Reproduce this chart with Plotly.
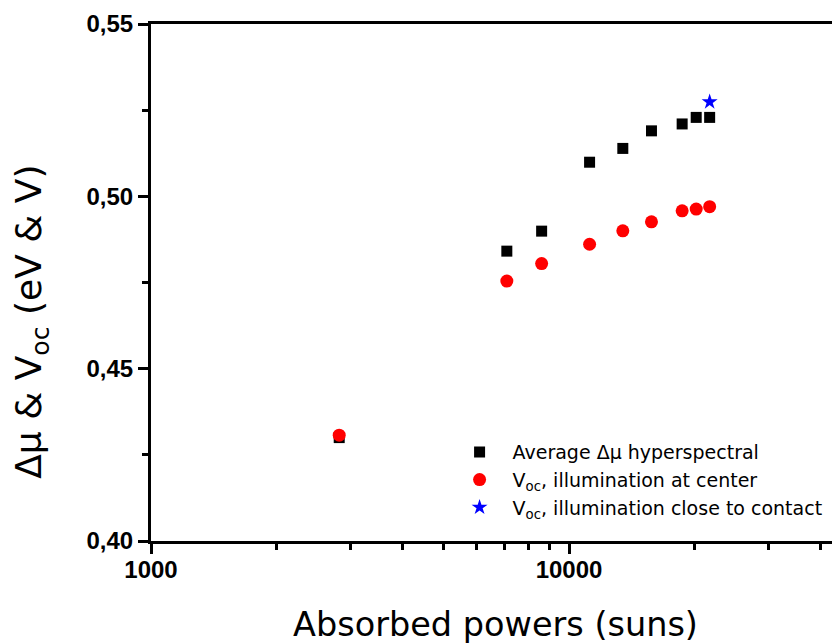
import plotly.graph_objects as go

# Absorbed power (suns)
power = [2820, 7100, 8600, 11200, 13450, 15750, 18650, 20150, 21700]
# Average delta-mu from hyperspectral imaging (eV)
dmu_hyper = [0.4300, 0.4841, 0.4899, 0.5099, 0.5139, 0.5190, 0.5210, 0.5229, 0.5229]
# Voc, illumination at center (V)
voc_center = [0.4307, 0.4754, 0.4805, 0.4861, 0.4900, 0.4926, 0.4958, 0.4963, 0.4970]
# Voc, illumination close to contact
power_contact = [21700]
voc_contact = [0.5274]

x_ticks = [1000, 10000]
x_ticklabels = ["1000", "10000"]
x_minor = [2000, 3000, 4000, 5000, 6000, 7000, 8000, 9000, 20000, 30000, 40000]
y_ticks = [0.40, 0.45, 0.50, 0.55]
y_ticklabels = ["0,40", "0,45", "0,50", "0,55"]
y_minor = [0.425, 0.475, 0.525]

FONT = "DejaVu Sans"
TICKFONT = "Liberation Sans, Arial, sans-serif"

fig = go.Figure()
fig.add_trace(go.Scatter(
    x=power, y=dmu_hyper, mode="markers", name="Average \u0394\u03bc hyperspectral",
    marker=dict(symbol="square", size=11, color="black", line=dict(width=0)),
))
fig.add_trace(go.Scatter(
    x=power, y=voc_center, mode="markers", name="V<sub>oc</sub>, illumination at center",
    marker=dict(symbol="circle", size=13, color="#ff0000", line=dict(width=0)),
))
fig.add_trace(go.Scatter(
    x=power_contact, y=voc_contact, mode="markers",
    name="V<sub>oc</sub>, illumination close to contact",
    marker=dict(symbol="star", size=12, color="#0000ff", line=dict(width=0)),
))

fig.update_layout(
    width=832, height=636,
    margin=dict(l=143, r=0, t=16, b=103, autoexpand=False),
    paper_bgcolor="white", plot_bgcolor="white",
    font=dict(family=FONT, color="black"),
    showlegend=True,
    legend=dict(
        x=0.429, y=0.027, xanchor="left", yanchor="bottom",
        bgcolor="rgba(255,255,255,0)", borderwidth=0,
        font=dict(family=FONT, size=19, color="black"),
        tracegroupgap=0, itemsizing="trace", itemwidth=56,
    ),
    annotations=[dict(
        text="\u0394\u03bc & V<sub>oc</sub> (eV & V)", textangle=-90,
        xref="paper", yref="paper", x=-119 / 689, y=0.424,
        xanchor="center", yanchor="middle", showarrow=False,
        font=dict(family=FONT, size=36, color="black"),
    )],
)

fig.update_xaxes(
    type="log", range=[3, 4.6483],
    tickvals=x_ticks, ticktext=x_ticklabels,
    ticks="outside", ticklen=10, tickwidth=3, tickcolor="black",
    tickfont=dict(family=TICKFONT, size=24, color="black", weight="bold"),
    ticklabelstandoff=-5,
    minor=dict(tickvals=x_minor, ticks="outside", ticklen=6, tickwidth=3, tickcolor="black", showgrid=False),
    showline=True, linewidth=3, linecolor="black", mirror=True,
    showgrid=False, zeroline=False,
    title=dict(text="Absorbed powers (suns)", font=dict(family=FONT, size=33.5, color="black"), standoff=32),
)
fig.update_yaxes(
    range=[0.40, 0.55],
    tickvals=y_ticks, ticktext=y_ticklabels,
    ticks="outside", ticklen=10, tickwidth=3, tickcolor="black",
    tickfont=dict(family=TICKFONT, size=24, color="black", weight="bold"),
    minor=dict(tickvals=y_minor, ticks="outside", ticklen=6, tickwidth=3, tickcolor="black", showgrid=False),
    showline=True, linewidth=3, linecolor="black", mirror=False,
    showgrid=False, zeroline=False,
)

fig.write_html("out.html")
